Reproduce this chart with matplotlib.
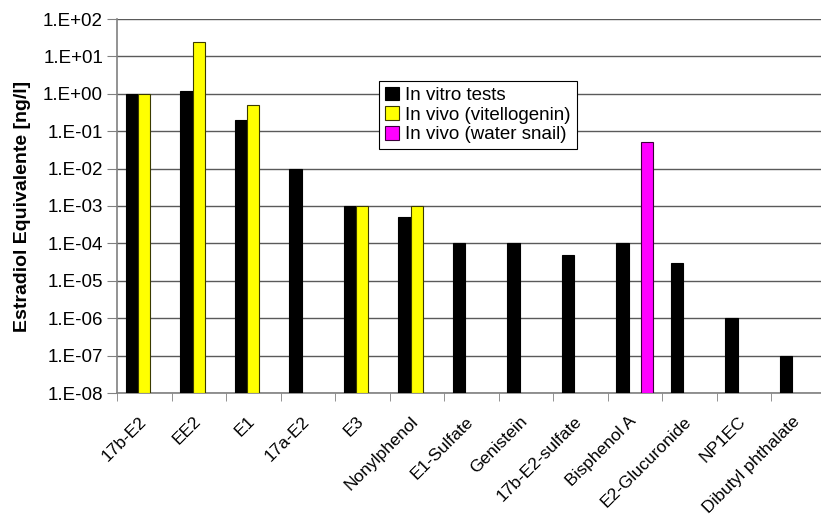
import numpy as np
import matplotlib.pyplot as plt
import matplotlib.transforms as mtransforms
from matplotlib.ticker import FixedLocator, FuncFormatter

plt.rcParams['font.family'] = ['Liberation Sans', 'DejaVu Sans']

categories = ["17b-E2", "EE2", "E1", "17a-E2", "E3", "Nonylphenol", "E1-Sulfate",
              "Genistein", "17b-E2-sulfate", "Bisphenol A", "E2-Glucuronide",
              "NP1EC", "Dibutyl phthalate"]
in_vitro = [1, 1.2, 0.2, 0.01, 1e-3, 5e-4, 1e-4, 1e-4, 5e-5, 1e-4, 3e-5, 1e-6, 1e-7]
in_vivo_vtg = [1, 25, 0.5, np.nan, 1e-3, 1e-3, np.nan, np.nan, np.nan, np.nan, np.nan, np.nan, np.nan]
in_vivo_snail = [np.nan] * 9 + [0.05] + [np.nan] * 3
series_names = ["In vitro tests", "In vivo (vitellogenin)", "In vivo (water snail)"]

base = 1e-8
fig = plt.figure(figsize=(8.21, 5.16), dpi=100)
ax = fig.add_axes([117/821, 1 - 393/516, 708.5/821, 374/516])

x = np.arange(len(categories))
w = 0.226
series = [in_vitro, in_vivo_vtg, in_vivo_snail]
colors = ["#000000", "#ffff00", "#ff00ff"]
edges = ["#000000", "#3a3a00", "#3a003a"]
for k, (vals, c, e, name) in enumerate(zip(series, colors, edges, series_names)):
    vals = np.array(vals, dtype=float)
    ax.bar(x + (k - 1) * w, vals - base, bottom=base, width=w, color=c,
           edgecolor=e, linewidth=0.8, label=name, zorder=3)

ax.set_yscale("log")
ax.set_ylim(1e-8, 1e2)
ax.set_xlim(-0.5, len(categories) - 0.5)
ax.yaxis.set_major_locator(FixedLocator([10.0 ** p for p in range(-8, 3)]))
ax.yaxis.set_minor_locator(FixedLocator([]))
ax.yaxis.set_major_formatter(FuncFormatter(lambda v, p: "1.E%+03d" % int(round(np.log10(v)))))
ax.grid(axis="y", color="#5a5a5a", linewidth=1.0, zorder=0)

ax.set_xticks(x)
ax.set_xticklabels(categories, rotation=45, ha="right", va="top", rotation_mode="anchor")
ax.tick_params(axis="x", length=0, pad=15, labelsize=12.5)
shift = mtransforms.ScaledTranslation(-6 / 100, 0, fig.dpi_scale_trans)
for lab in ax.get_xticklabels():
    lab.set_transform(lab.get_transform() + shift)
ax.set_xticks(np.arange(-0.5, len(categories), 1), minor=True)
ax.tick_params(axis="x", which="minor", length=6, color="#808080", direction="out")
ax.tick_params(axis="y", length=7, color="#808080", labelsize=13.5, pad=3)

for s in ["top", "right"]:
    ax.spines[s].set_visible(False)
for s in ["left", "bottom"]:
    ax.spines[s].set_color("#808080")
    ax.spines[s].set_linewidth(1.2)

ax.set_ylabel("Estradiol Equivalente [ng/l]", fontsize=14, fontweight="bold")
ax.yaxis.set_label_coords(-0.122, 0.5)

leg = ax.legend(loc="upper left", bbox_to_anchor=(0.37, 0.834), fontsize=13.5,
                frameon=True, fancybox=False, edgecolor="#000000", framealpha=1,
                handlelength=0.75, handleheight=0.75, handletextpad=0.35,
                borderpad=0.3, labelspacing=0.12, borderaxespad=0)
leg.get_frame().set_linewidth(0.8)

fig.savefig("out.png", dpi=100)
